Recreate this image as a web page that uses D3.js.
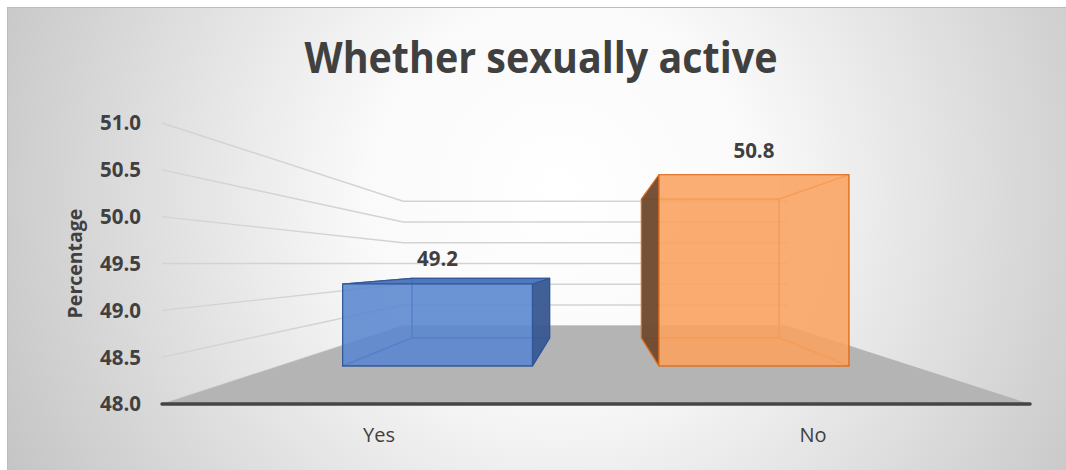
<!DOCTYPE html>
<html>
<head>
<meta charset="utf-8">
<script src="https://cdn.jsdelivr.net/npm/d3@7"></script>
<style>
  html, body { margin: 0; padding: 0; background: #ffffff; }
  svg { display: block; }
  text { font-family: "Open Sans", "Noto Sans", sans-serif; fill: #404040; }
</style>
</head>
<body>
<div id="chart"></div>
<script>
// ---- data ----
const categories = ["Yes", "No"];
const values = [49.2, 50.8];
const tickValues = [48.0, 48.5, 49.0, 49.5, 50.0, 50.5, 51.0];
const chartTitle = "Whether sexually active";
const axisTitle = "Percentage";

// ---- styling per series ----
const faceColors = [
  { front: "#5b88d0", side: "#3a5a92", top: "#4a73ba", back: "#4472c4", edge: "#2f5597" },
  { front: "#faa462", side: "#6e4a2f", top: "#f4994f", back: "#ed7d31", edge: "#dd6d1e" }
];

const W = 1066, H = 470;
const svg = d3.select("#chart").append("svg").attr("width", W).attr("height", H);

// background gradient of the chart area
const defs = svg.append("defs");
const bg = defs.append("radialGradient").attr("id", "bgGrad")
  .attr("gradientUnits", "userSpaceOnUse")
  .attr("cx", 560).attr("cy", 190).attr("r", 640);
bg.append("stop").attr("offset", 0).attr("stop-color", "#ffffff");
bg.append("stop").attr("offset", 0.3).attr("stop-color", "#fafafa");
bg.append("stop").attr("offset", 1).attr("stop-color", "#c2c2c2");

svg.append("rect").attr("x", 7.5).attr("y", 7.5).attr("width", W).attr("height", H)
  .attr("fill", "url(#bgGrad)").attr("stroke", "#bcbcbc").attr("stroke-width", 1);

// ---- front-plane scales ----
const x = d3.scaleBand().domain(categories).range([162, 1030]).paddingInner(0).paddingOuter(0);
const barFrac = 0.6;
const y = d3.scaleLinear().domain([48, 51]).range([404, 123]);

// one-point perspective: vanishing point at eye level
const eyeLevel = 49.5;
const VP = { x: 595, y: y(eyeLevel) };
const depth = { front: 1, barFront: 0.729, barBack: 0.529, wall: 0.443 };
function proj(px, py, s) {
  return [VP.x + (px - VP.x) * s, VP.y + (py - VP.y) * s];
}
const line = d3.line();
const poly = pts => line(pts) + "Z";

const xL = x.range()[0], xR = x.range()[1];
const base = y.domain()[0];

// ---- side wall + back wall gridlines ----
const grid = svg.append("g");
tickValues.forEach(v => {
  const pts = [
    proj(xL, y(v), depth.front),
    proj(xL, y(v), depth.wall),
    proj(xR, y(v), depth.wall)
  ];
  grid.append("path").attr("d", line(pts))
    .attr("fill", "none").attr("stroke", "#d3d3d3").attr("stroke-width", 1.4);
});

// ---- floor ----
svg.append("path")
  .attr("d", poly([
    proj(xL, y(base), depth.front), proj(xR, y(base), depth.front),
    proj(xR, y(base), depth.wall), proj(xL, y(base), depth.wall)
  ]))
  .attr("fill", "#b4b4b4");

svg.append("line")
  .attr("x1", xL).attr("x2", xR).attr("y1", y(base)).attr("y2", y(base))
  .attr("stroke", "#454545").attr("stroke-width", 3.5).attr("stroke-linecap", "round");

// ---- 3D translucent bars ----
const bars = svg.append("g");
categories.forEach((c, i) => {
  const col = faceColors[i];
  const bw = x.bandwidth() * barFrac;
  const x0 = x(c) + (x.bandwidth() - bw) / 2, x1 = x0 + bw;
  const y0 = y(base), y1 = y(values[i]);
  const f = depth.barFront, b = depth.barBack;
  const F = { bl: proj(x0, y0, f), br: proj(x1, y0, f), tl: proj(x0, y1, f), tr: proj(x1, y1, f) };
  const B = { bl: proj(x0, y0, b), br: proj(x1, y0, b), tl: proj(x0, y1, b), tr: proj(x1, y1, b) };

  const g = bars.append("g");
  const face = (pts, fill, op) => g.append("path").attr("d", poly(pts))
    .attr("fill", fill).attr("fill-opacity", op)
    .attr("stroke", col.edge).attr("stroke-width", 1.2).attr("stroke-opacity", 0.9)
    .attr("stroke-linejoin", "round");

  const rightVisible = x1 < VP.x;
  const topVisible = values[i] < eyeLevel;

  // hidden faces first
  face([B.bl, B.br, B.tr, B.tl], col.back, 0.25);
  face([F.bl, F.br, B.br, B.bl], col.back, 0.3);
  if (rightVisible) face([F.bl, F.tl, B.tl, B.bl], col.back, 0.15);
  else face([F.br, F.tr, B.tr, B.br], col.back, 0.15);
  if (!topVisible) face([F.tl, F.tr, B.tr, B.tl], col.back, 0.15);

  // visible faces
  if (rightVisible) face([F.br, F.tr, B.tr, B.br], col.side, 0.95);
  else face([F.bl, F.tl, B.tl, B.bl], col.side, 0.95);
  if (topVisible) face([F.tl, F.tr, B.tr, B.tl], col.top, 0.95);
  face([F.bl, F.br, F.tr, F.tl], col.front, 0.86);

  // value label above the front face
  g.append("text")
    .attr("x", (F.tl[0] + F.tr[0]) / 2).attr("y", Math.min(F.tl[1], B.tl[1]) - 17 + (topVisible ? 5 : 0))
    .attr("text-anchor", "middle").attr("font-size", 20.5).attr("font-weight", 700)
    .text(values[i].toFixed(1));
});

// ---- value axis labels ----
const axis = svg.append("g");
tickValues.forEach(v => {
  axis.append("text")
    .attr("x", 141).attr("y", y(v)).attr("dy", "0.36em")
    .attr("text-anchor", "end").attr("font-size", 20.5).attr("font-weight", 700)
    .text(v.toFixed(1));
});

axis.append("text")
  .attr("transform", `translate(82,${VP.y}) rotate(-90)`)
  .attr("text-anchor", "middle").attr("font-size", 19.5).attr("font-weight", 700)
  .text(axisTitle);

// ---- category labels ----
categories.forEach(c => {
  svg.append("text")
    .attr("x", x(c) + x.bandwidth() / 2).attr("y", 442)
    .attr("text-anchor", "middle").attr("font-size", 20)
    .text(c);
});

// ---- title ----
svg.append("text")
  .attr("x", 541).attr("y", 73)
  .attr("text-anchor", "middle").attr("font-size", 43).attr("font-weight", 700)
  .attr("textLength", 473).attr("lengthAdjust", "spacingAndGlyphs")
  .text(chartTitle);
</script>
</body>
</html>
